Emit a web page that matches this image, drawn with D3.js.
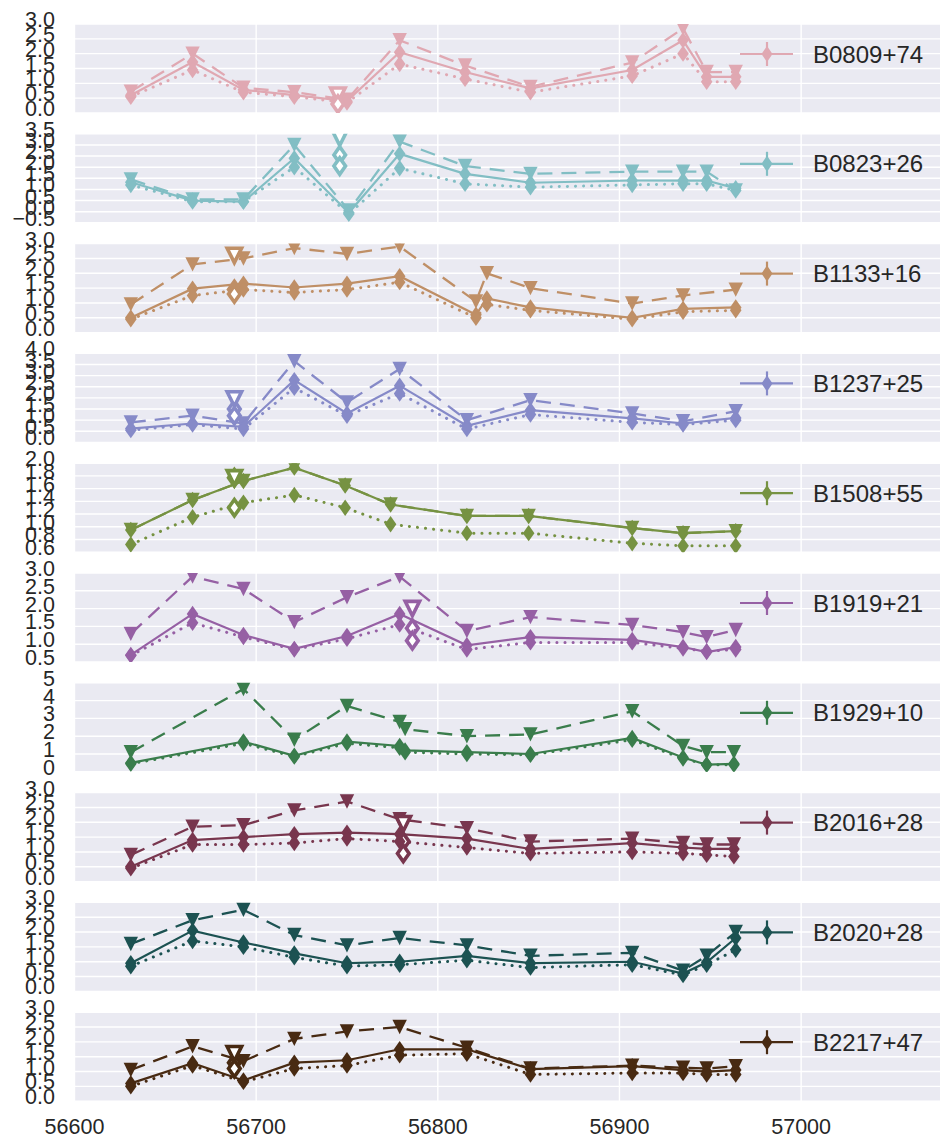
<!DOCTYPE html>
<html>
<head>
<meta charset="utf-8">
<script src="https://cdn.jsdelivr.net/npm/d3@7"></script>
<style>
  body { margin: 0; background: #ffffff; }
  svg { display: block; }
  text { font-family: "Liberation Sans", Arial, sans-serif; fill: #262626; }
</style>
</head>
<body>
<svg id="chart" width="940" height="1139"></svg>
<script>
// Pulsar names (one panel each) and their line colours
const pulsars = ["B0809+74", "B0823+26", "B1133+16", "B1237+25", "B1508+55",
                 "B1919+21", "B1929+10", "B2016+28", "B2020+28", "B2217+47"];
const lineColors = ["#e0a8b2", "#82bec4", "#bf8f66", "#868ac8", "#769242",
                    "#9660a4", "#3a7d4c", "#78364e", "#1c5252", "#482a12"];

// Axis limits and tick spacing for each panel
const yLimits = [[0, 3], [-0.5, 3.5], [0, 3], [0, 4], [0.6, 2.0],
                 [0.5, 3.0], [0, 5], [0, 3], [0, 3], [0, 3]];
const yTickSteps = [0.5, 0.5, 0.5, 0.5, 0.2, 0.5, 1, 0.5, 0.5, 0.5];
const yTickDecimals = [1, 1, 1, 1, 1, 1, 0, 1, 1, 1];
const xTickValues = [56600, 56700, 56800, 56900, 57000];

// Observation epochs (MJD) per pulsar
const epochs = [
  [56631, 56665, 56693, 56721, 56750, 56779, 56815, 56851, 56907, 56935, 56948, 56964],
  [56631, 56665, 56693, 56721, 56751, 56779, 56815, 56851, 56907, 56935, 56948, 56964],
  [56631, 56665, 56693, 56721, 56750, 56779, 56821, 56827, 56851, 56907, 56935, 56964],
  [56631, 56665, 56693, 56721, 56750, 56779, 56816, 56851, 56907, 56935, 56964],
  [56631, 56665, 56693, 56721, 56749, 56774, 56816, 56850, 56907, 56935, 56964],
  [56631, 56665, 56693, 56721, 56750, 56779, 56816, 56851, 56907, 56935, 56948, 56964],
  [56631, 56693, 56721, 56750, 56779, 56782, 56816, 56851, 56907, 56935, 56948, 56963],
  [56631, 56665, 56693, 56721, 56750, 56779, 56816, 56851, 56907, 56935, 56948, 56963],
  [56631, 56665, 56693, 56721, 56750, 56779, 56816, 56851, 56907, 56935, 56948, 56964],
  [56631, 56665, 56693, 56721, 56750, 56779, 56816, 56851, 56907, 56935, 56948, 56964]
];

// Measured values: solid line (diamonds), dashed line (triangles), dotted line (diamonds)
const solidVals = [
  [0.6, 1.72, 0.78, 0.6, 0.4, 2.05, 1.38, 0.83, 1.45, 2.45, 1.22, 1.22],
  [1.32, 0.5, 0.45, 2.4, -0.05, 2.6, 1.7, 1.3, 1.4, 1.4, 1.4, 1.05],
  [0.5, 1.48, 1.65, 1.52, 1.65, 1.9, 0.6, 1.15, 0.85, 0.5, 0.8, 0.85],
  [0.62, 0.85, 0.7, 2.8, 1.3, 2.55, 0.75, 1.45, 1.08, 0.85, 1.1],
  [0.95, 1.42, 1.72, 1.93, 1.65, 1.35, 1.17, 1.17, 0.98, 0.9, 0.93],
  [0.7, 1.85, 1.26, 0.87, 1.23, 1.85, 0.97, 1.2, 1.12, 0.92, 0.78, 0.92],
  [0.5, 1.7, 0.9, 1.7, 1.45, 1.2, 1.1, 1.0, 1.9, 0.8, 0.4, 0.45],
  [0.5, 1.4, 1.5, 1.6, 1.65, 1.6, 1.45, 1.1, 1.3, 1.15, 1.1, 1.1],
  [0.95, 2.05, 1.65, 1.28, 0.95, 1.0, 1.2, 0.95, 1.0, 0.6, 0.98, 1.8],
  [0.6, 1.28, 0.7, 1.3, 1.38, 1.75, 1.75, 1.08, 1.18, 1.05, 1.0, 1.05]
];
const dashedVals = [
  [0.72, 2.0, 0.85, 0.7, 0.45, 2.45, 1.6, 0.88, 1.7, 2.85, 1.38, 1.38],
  [1.45, 0.55, 0.55, 3.0, 0.05, 3.15, 2.05, 1.7, 1.8, 1.8, 1.8, 0.95],
  [0.95, 2.3, 2.5, 2.85, 2.65, 2.9, 1.05, 2.0, 1.5, 0.98, 1.25, 1.45],
  [0.9, 1.2, 0.85, 3.65, 1.8, 3.3, 1.0, 1.9, 1.3, 0.95, 1.4],
  [0.95, 1.42, 1.72, 1.93, 1.65, 1.35, 1.17, 1.17, 0.98, 0.9, 0.93],
  [1.29, 2.9, 2.55, 1.62, 2.32, 2.9, 1.37, 1.76, 1.54, 1.34, 1.2, 1.4],
  [1.1, 4.65, 1.8, 3.7, 2.8, 2.4, 2.0, 2.1, 3.4, 1.45, 1.1, 1.1],
  [0.9, 1.85, 1.9, 2.4, 2.7, 2.1, 1.8, 1.35, 1.45, 1.3, 1.25, 1.25],
  [1.6, 2.4, 2.75, 1.9, 1.55, 1.8, 1.55, 1.2, 1.3, 0.7, 1.2, 2.0],
  [1.05, 1.85, 1.35, 2.1, 2.35, 2.5, 1.8, 1.1, 1.2, 1.13, 1.1, 1.18]
];
const dottedVals = [
  [0.55, 1.45, 0.7, 0.55, 0.35, 1.65, 1.15, 0.7, 1.25, 2.0, 1.05, 1.05],
  [1.2, 0.45, 0.45, 2.0, -0.1, 1.95, 1.25, 1.1, 1.2, 1.25, 1.25, 0.95],
  [0.45, 1.25, 1.45, 1.35, 1.45, 1.7, 0.5, 0.95, 0.75, 0.45, 0.7, 0.75],
  [0.55, 0.8, 0.6, 2.45, 1.2, 2.2, 0.6, 1.25, 0.9, 0.8, 1.0],
  [0.72, 1.15, 1.38, 1.5, 1.3, 1.04, 0.9, 0.9, 0.74, 0.7, 0.7],
  [0.68, 1.6, 1.2, 0.85, 1.15, 1.55, 0.85, 1.05, 1.05, 0.88, 0.8, 0.85],
  [0.45, 1.6, 0.85, 1.6, 1.35, 1.1, 1.0, 0.95, 1.8, 0.75, 0.4, 0.4],
  [0.45, 1.25, 1.25, 1.3, 1.45, 1.35, 1.15, 0.95, 1.0, 0.95, 0.9, 0.85],
  [0.85, 1.7, 1.5, 1.15, 0.85, 0.9, 1.05, 0.8, 0.9, 0.55, 0.9, 1.4],
  [0.5, 1.2, 0.65, 1.1, 1.2, 1.55, 1.6, 0.9, 0.95, 0.95, 0.9, 0.9]
];

// Flagged epochs, drawn as open markers and left out of the lines
const openEpochs = [[56745], [56746], [56688], [56688], [56688], [56786], [], [56781], [], [56688]];
const openSolid  = [[0.45], [2.55], [1.45], [1.5], [1.77], [1.45], [], [1.35], [], [1.3]];
const openDashed = [[0.6],  [3.3],  [2.6],  [1.95], [1.77], [2.0],  [], [1.95], [], [1.6]];
const openDotted = [[0.3],  [2.05], [1.3],  [1.2],  [1.3],  [1.1],  [], [0.95], [], [1.1]];

// Typical measurement uncertainty per pulsar (half-length of error bars)
const errHalf = [0.1, 0.15, 0.1, 0.15, 0.04, 0.1, 0.2, 0.1, 0.1, 0.1];

// ---- layout ----
const plotLeft = 74.5, plotRight = 941;
const panelTop0 = 24, panelPitch = 109.8, panelH = 89;
const bg = "#eaeaf2";

const svg = d3.select("#chart");
const x = d3.scaleLinear().domain([56600, 57077]).range([plotLeft, plotRight]);

const diamondPath = (w, h) => `M0,${-h}L${w},0L0,${h}L${-w},0Z`;
const triDownPath = s => `M${-s},${-s}L${s},${-s}L0,${s}Z`;

const seriesStyles = [
  { key: "solid",  dash: null,    width: 2.2, marker: diamondPath(5.8, 8.2), cap: "butt" },
  { key: "dashed", dash: "15,9",  width: 2.3, marker: triDownPath(7.2),     cap: "butt" },
  { key: "dotted", dash: "0.1,8", width: 3.0, marker: diamondPath(5.8, 8.2), cap: "round" }
];

pulsars.forEach((name, i) => {
  const top = panelTop0 + i * panelPitch;
  const color = lineColors[i];
  const [y0, y1] = yLimits[i];
  const y = d3.scaleLinear().domain([y0, y1]).range([top + panelH, top]);
  const g = svg.append("g");

  const clipId = "clip" + i;
  svg.append("clipPath").attr("id", clipId)
    .append("rect").attr("x", plotLeft).attr("y", top)
    .attr("width", plotRight - plotLeft).attr("height", panelH);

  // panel background
  g.append("rect").attr("x", plotLeft).attr("y", top)
    .attr("width", plotRight - plotLeft).attr("height", panelH).attr("fill", bg);

  // grid
  const step = yTickSteps[i];
  const yTicks = d3.range(Math.round((y1 - y0) / step) + 1).map(k => +(y0 + k * step).toFixed(6));
  g.selectAll(".hg").data(yTicks).join("line")
    .attr("x1", plotLeft).attr("x2", plotRight)
    .attr("y1", d => y(d)).attr("y2", d => y(d))
    .attr("stroke", "#ffffff").attr("stroke-width", 1.4);
  g.selectAll(".vg").data(xTickValues).join("line")
    .attr("x1", d => x(d)).attr("x2", d => x(d))
    .attr("y1", top).attr("y2", top + panelH)
    .attr("stroke", "#ffffff").attr("stroke-width", 1.4);

  // y tick labels
  const fmt = d3.format("." + yTickDecimals[i] + "f");
  g.selectAll(".yl").data(yTicks).join("text")
    .attr("x", 55).attr("y", d => y(d) + 3)
    .attr("text-anchor", "end")
    .attr("font-size", 21.5)
    .text(d => fmt(d).replace("-", "\u2212"));

  const plot = g.append("g").attr("clip-path", `url(#${clipId})`);
  const valueSets = { solid: solidVals[i], dashed: dashedVals[i], dotted: dottedVals[i] };
  const openSets = { solid: openSolid[i], dashed: openDashed[i], dotted: openDotted[i] };
  const err = errHalf[i];

  seriesStyles.forEach(st => {
    const pts = epochs[i].map((m, k) => ({ m, v: valueSets[st.key][k] }))
      .filter(p => p.v != null);
    const line = d3.line().x(p => x(p.m)).y(p => y(p.v));
    plot.append("path").datum(pts)
      .attr("d", line)
      .attr("fill", "none")
      .attr("stroke", color)
      .attr("stroke-width", st.width)
      .attr("stroke-linecap", st.cap)
      .attr("stroke-dasharray", st.dash);

    // error bars
    plot.selectAll(null).data(pts).join("line")
      .attr("x1", p => x(p.m)).attr("x2", p => x(p.m))
      .attr("y1", p => y(p.v - err)).attr("y2", p => y(p.v + err))
      .attr("stroke", color).attr("stroke-width", 2.2);

    // markers
    plot.selectAll(null).data(pts).join("path")
      .attr("d", st.marker)
      .attr("transform", p => `translate(${x(p.m)},${y(p.v)})`)
      .attr("fill", color);

    // open (flagged) markers
    const opts = openEpochs[i].map((m, k) => ({ m, v: openSets[st.key][k] }));
    plot.selectAll(null).data(opts).join("line")
      .attr("x1", p => x(p.m)).attr("x2", p => x(p.m))
      .attr("y1", p => y(p.v - err)).attr("y2", p => y(p.v + err))
      .attr("stroke", color).attr("stroke-width", 2.2);
    plot.selectAll(null).data(opts).join("path")
      .attr("d", st.marker)
      .attr("transform", p => `translate(${x(p.m)},${y(p.v)})`)
      .attr("fill", "#ffffff")
      .attr("stroke", color)
      .attr("stroke-width", 3.6);
  });

  // legend (first series only)
  const ly = top + 30;
  const lg = g.append("g");
  lg.append("line").attr("x1", 740).attr("x2", 793).attr("y1", ly).attr("y2", ly)
    .attr("stroke", color).attr("stroke-width", 2.2);
  lg.append("line").attr("x1", 767).attr("x2", 767).attr("y1", ly - 12).attr("y2", ly + 12)
    .attr("stroke", color).attr("stroke-width", 2.2);
  lg.append("path").attr("d", diamondPath(5.5, 8))
    .attr("transform", `translate(767,${ly})`).attr("fill", color);
  lg.append("text").attr("x", 813).attr("y", ly).attr("dy", "0.36em")
    .attr("font-size", 24).text(name);
});

// shared x-axis labels under the last panel
const bottom = panelTop0 + 9 * panelPitch + panelH;
svg.append("g").selectAll("text").data(xTickValues).join("text")
  .attr("x", d => x(d)).attr("y", bottom + 33)
  .attr("text-anchor", "middle")
  .attr("font-size", 21.5)
  .text(d => d3.format("d")(d));
</script>
</body>
</html>
